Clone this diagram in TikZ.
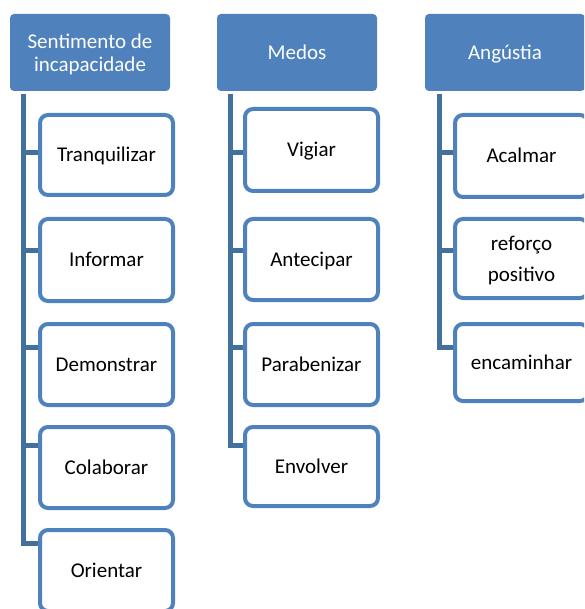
\documentclass[tikz,border=0pt]{standalone}
\usepackage{fontspec}
\setmainfont{Carlito}
\usetikzlibrary{backgrounds}
\definecolor{hdrblue}{HTML}{4F81BD}
\definecolor{barblue}{HTML}{41719C}
\begin{document}
\begin{tikzpicture}[x=1pt,y=-1pt,
  hdr/.style={fill=hdrblue,draw=none,rounded corners=4pt,text=white,align=center,
    minimum width=160pt,minimum height=77pt,inner sep=0pt,
    text height=13.5pt,text depth=0pt,
    font=\fontsize{21}{23.5}\selectfont},
  kid/.style={fill=white,draw=hdrblue,line width=4pt,rounded corners=8pt,align=center,
    minimum width=133pt,inner sep=0pt,text=black,
    text height=13.5pt,text depth=0pt,
    font=\fontsize{21}{31}\selectfont},
  twoline/.style={text height=,text depth=0pt},
  bar/.style={draw=barblue,line width=5pt,line join=miter}]
\useasboundingbox (0,0) rectangle (584,609);
\clip (0,0) rectangle (584,609);
% headers
\node[hdr,twoline] (h1) at (90,52.5) {Sentimento de\\incapacidade};
\node[hdr] (h2) at (297,52.5) {Medos};
\node[hdr] (h3) at (505,52.5) {Angústia};
% column 1
\node[kid,minimum height=80pt] (a1) at (106.5,155) {Tranquilizar};
\node[kid,minimum height=82pt] (a2) at (106.5,260) {Informar};
\node[kid,minimum height=81pt] (a3) at (106.5,364.5) {Demonstrar};
\node[kid,minimum height=81pt] (a4) at (106.5,467.5) {Colaborar};
\node[kid,minimum height=81pt] (a5) at (106.5,570.5) {Orientar};
% column 2
\node[kid,minimum height=82pt] (b1) at (311.5,150) {Vigiar};
\node[kid,minimum height=81pt] (b2) at (311.5,259.5) {Antecipar};
\node[kid,minimum height=81pt] (b3) at (311.5,364.5) {Parabenizar};
\node[kid,minimum height=79pt] (b4) at (311.5,466.5) {Envolver};
% column 3
\node[kid,minimum height=82pt] (c1) at (521.5,156) {Acalmar};
\node[kid,twoline,minimum height=79pt] (c2) at (521.5,258.5) {reforço\\positivo};
\node[kid,minimum height=77pt] (c3) at (521.5,362.5) {encaminhar};
% bar anchors
\coordinate (t1) at (23.5,94);
\coordinate (t2) at (230.5,94);
\coordinate (t3) at (439,94);
\coordinate (p11) at (23.5,153);
\coordinate (p12) at (23.5,250);
\coordinate (p13) at (23.5,347);
\coordinate (p14) at (23.5,445);
\coordinate (p15) at (23.5,543);
\coordinate (p21) at (230.5,153);
\coordinate (p22) at (230.5,250);
\coordinate (p23) at (230.5,347);
\coordinate (p24) at (230.5,445);
\coordinate (p31) at (439,153);
\coordinate (p32) at (439,250);
\coordinate (p33) at (439,347);
\begin{pgfonlayer}{background}
\draw[bar] (t1) -- (p15) -- (p15 -| a5.west);
\draw[bar] (p11) -- (p11 -| a1.west);
\draw[bar] (p12) -- (p12 -| a2.west);
\draw[bar] (p13) -- (p13 -| a3.west);
\draw[bar] (p14) -- (p14 -| a4.west);
\draw[bar] (t2) -- (p24) -- (p24 -| b4.west);
\draw[bar] (p21) -- (p21 -| b1.west);
\draw[bar] (p22) -- (p22 -| b2.west);
\draw[bar] (p23) -- (p23 -| b3.west);
\draw[bar] (t3) -- (p33) -- (p33 -| c3.west);
\draw[bar] (p31) -- (p31 -| c1.west);
\draw[bar] (p32) -- (p32 -| c2.west);
\end{pgfonlayer}
\end{tikzpicture}
\end{document}
